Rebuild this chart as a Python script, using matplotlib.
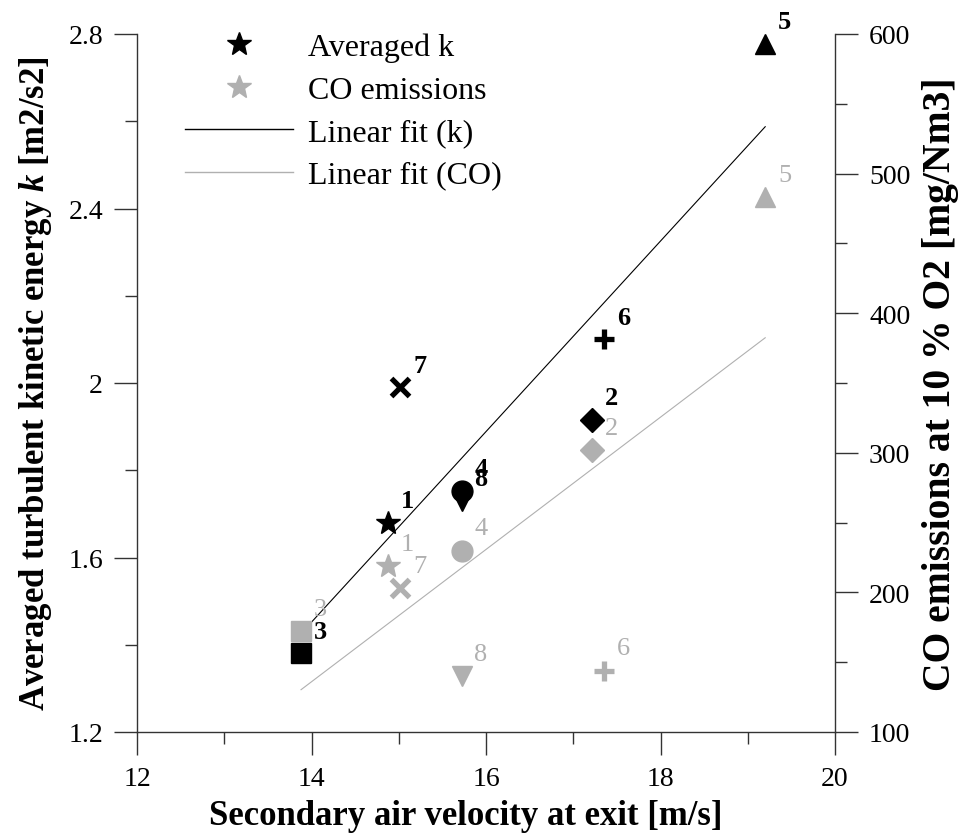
import numpy as np
import matplotlib
matplotlib.use("Agg")
import matplotlib.pyplot as plt
from matplotlib.ticker import MultipleLocator, FixedLocator, FixedFormatter
from matplotlib.lines import Line2D

plt.rcParams['font.family'] = ['Liberation Serif', 'DejaVu Serif']
plt.rcParams['mathtext.fontset'] = 'custom'
plt.rcParams['mathtext.it'] = 'Liberation Serif:italic:bold'
plt.rcParams['mathtext.rm'] = 'Liberation Serif:bold'

# case numbers and values
cases = ['1', '2', '3', '4', '5', '6', '7', '8']
velocity = [14.88, 17.22, 13.88, 15.72, 19.2, 17.35, 15.02, 15.72]
k_avg = [1.68, 1.915, 1.38, 1.752, 2.778, 2.10, 1.99, 1.73]
co_emis = [219, 302, 172, 230, 483, 144, 203, 140]
markers = ['*', 'D', 's', 'o', '^', '+', 'x', 'v']
msizes = [18, 12, 15, 15, 15, 15, 13, 15]

x_ticks = [12, 14, 16, 18, 20]
k_ticks = [1.2, 1.6, 2.0, 2.4, 2.8]
k_ticklabels = ['1.2', '1.6', '2', '2.4', '2.8']
co_ticks = [100, 200, 300, 400, 500, 600]

black = 'black'
grey = '#b0b0b0'
spine_c = '#333333'

fig = plt.figure(figsize=(9.58, 8.37), dpi=100)
ax = fig.add_axes([137 / 958, 1 - 733 / 837, 698 / 958, 698 / 837])
ax2 = ax.twinx()

x = np.array(velocity)
k = np.array(k_avg)
co = np.array(co_emis)

# linear fits
xf = np.array([x.min(), x.max()])
pk = np.polyfit(x, k, 1)
pc = np.polyfit(x, co, 1)
ax.plot(xf, np.polyval(pk, xf), color=black, lw=0.8, zorder=2)
ax2.plot(xf, np.polyval(pc, xf), color=grey, lw=0.8, zorder=2)

for i in range(len(cases)):
    mew = 3.8 if markers[i] in ('+', 'x') else 1.0
    ax.plot(x[i], k[i], marker=markers[i], ms=msizes[i], color=black,
            mec=black, mew=mew, ls='none', zorder=3)
    ax.annotate(cases[i], (x[i], k[i]), xytext=(14, 16), textcoords='offset points',
                ha='center', va='center', fontsize=19, fontweight='bold', color=black)
    ax2.plot(x[i], co[i], marker=markers[i], ms=msizes[i], color=grey,
             mec=grey, mew=mew, ls='none', zorder=3)
    ax2.annotate(cases[i], (x[i], co[i]), xytext=(14, 16), textcoords='offset points',
                 ha='center', va='center', fontsize=19, color=grey)

ax.set_xlim(12, 20)
ax.set_ylim(1.2, 2.8)
ax2.set_ylim(100, 600)

ax.xaxis.set_major_locator(FixedLocator(x_ticks))
ax.xaxis.set_minor_locator(MultipleLocator(1))
ax.yaxis.set_major_locator(FixedLocator(k_ticks))
ax.yaxis.set_major_formatter(FixedFormatter(k_ticklabels))
ax.yaxis.set_minor_locator(MultipleLocator(0.2))
ax2.yaxis.set_major_locator(FixedLocator(co_ticks))
ax2.yaxis.set_minor_locator(MultipleLocator(50))

for a in (ax, ax2):
    a.spines['top'].set_visible(False)
    for s in a.spines.values():
        s.set_color(spine_c)
        s.set_linewidth(1.0)
    a.tick_params(which='major', direction='out', length=16.5, width=1.0,
                  color=spine_c, labelsize=20, pad=8)
    a.tick_params(which='minor', direction='out', length=8.3, width=1.0, color=spine_c)
ax.spines['right'].set_visible(False)
ax2.spines['left'].set_visible(False)
ax2.spines['bottom'].set_visible(False)

ax.set_xlabel('Secondary air velocity at exit [m/s]', fontsize=25, fontweight='bold',
              labelpad=6)
ax.xaxis.label.set_x(0.471)
ax.set_ylabel('Averaged turbulent kinetic energy $\\mathit{k}$ [m2/s2]', fontsize=25,
              fontweight='bold', labelpad=10)
ax2.set_ylabel('CO emissions at 10 % O2 [mg/Nm3]', fontsize=28.5, fontweight='bold',
               labelpad=8)

# legend
handles = [Line2D([], [], marker='*', ms=18, color=black, ls='none'),
           Line2D([], [], marker='*', ms=18, color=grey, ls='none'),
           Line2D([], [], color=black, lw=1.0),
           Line2D([], [], color=grey, lw=1.0)]
labels = ['Averaged k', 'CO emissions', 'Linear fit (k)', 'Linear fit (CO)']
leg = ax.legend(handles, labels, loc='upper left', bbox_to_anchor=(0.05, 1.02),
                frameon=False, fontsize=23, handlelength=3.4, labelspacing=0.41,
                handletextpad=0.45, borderaxespad=0)

fig.savefig('out.png', dpi=100)
